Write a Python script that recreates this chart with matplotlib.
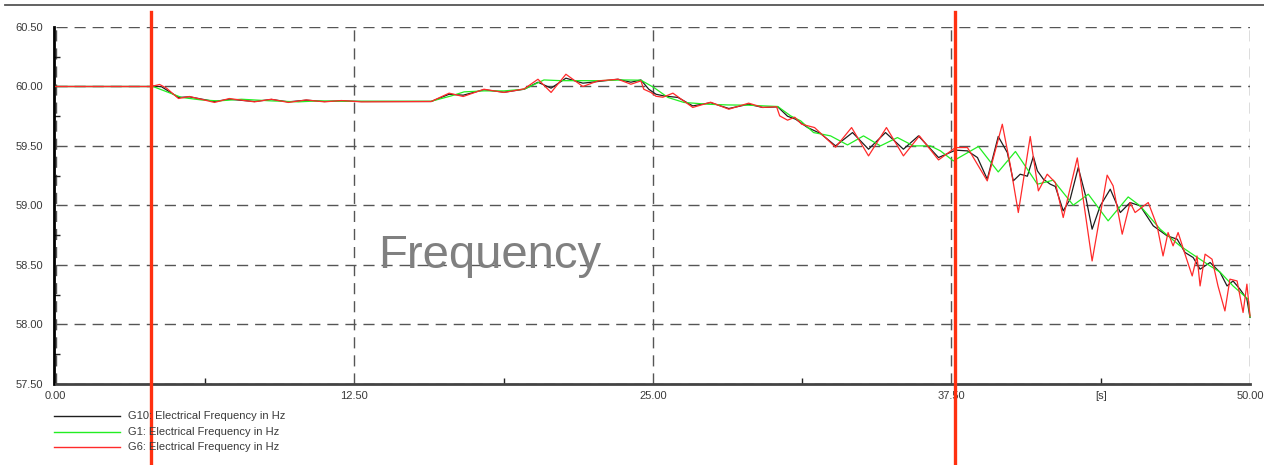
import matplotlib
matplotlib.use("Agg")
import matplotlib.pyplot as plt
from matplotlib.lines import Line2D
import numpy as np

plt.rcParams['font.family'] = ['Liberation Sans', 'DejaVu Sans']

# ---------------- data ----------------
t_g10 = [0, 4.01, 4.10, 4.43, 5.14, 5.60, 6.65, 7.27, 8.32, 9.03, 9.74, 10.49, 11.25, 11.96,
         12.79, 15.72, 16.47, 17.06, 17.93, 18.77, 19.61, 20.19, 20.74, 21.36, 22.07, 22.83,
         23.54, 24.08, 24.50, 24.83, 25.13, 25.46, 26.05, 26.67, 27.42, 28.18, 29.01, 29.60,
         30.23, 30.64, 30.98, 31.48, 32.02, 32.65, 33.36, 34.03, 34.74, 35.49, 36.12, 36.96,
         37.67, 38.17, 38.59, 39.00, 39.46, 39.84, 40.09, 40.38, 40.68, 40.93, 41.10, 41.35,
         41.64, 41.85, 42.18, 42.47, 42.81, 43.10, 43.39, 43.73, 44.15, 44.57, 44.98, 45.40,
         45.95, 46.53, 46.95, 47.28, 47.62, 47.91, 48.33, 48.75, 49.04, 49.29, 49.58, 49.87, 50.00]
f_g10 = [60.000, 60.000, 60.003, 59.998, 59.908, 59.913, 59.874, 59.893, 59.874, 59.891, 59.871,
         59.885, 59.874, 59.879, 59.874, 59.874, 59.935, 59.927, 59.973, 59.952, 59.977, 60.036,
         59.986, 60.070, 60.028, 60.045, 60.061, 60.036, 60.055, 59.977, 59.935, 59.921, 59.908,
         59.837, 59.864, 59.815, 59.851, 59.824, 59.829, 59.750, 59.725, 59.655, 59.605, 59.501,
         59.613, 59.473, 59.613, 59.473, 59.585, 59.403, 59.465, 59.459, 59.403, 59.221, 59.580,
         59.445, 59.207, 59.263, 59.246, 59.412, 59.291, 59.221, 59.179, 59.160, 58.955, 59.053,
         59.319, 59.095, 58.801, 58.997, 59.137, 58.941, 59.025, 58.997, 58.829, 58.745, 58.717,
         58.605, 58.563, 58.465, 58.521, 58.437, 58.324, 58.366, 58.297, 58.213, 58.059]

t_g1 = [0, 4.01, 4.10, 5.27, 6.10, 6.81, 7.78, 9.03, 10.16, 10.99, 12.08, 15.72, 16.56, 17.10,
        17.93, 18.77, 19.61, 20.44, 21.15, 22.70, 23.79, 24.50, 25.04, 25.63, 26.30, 27.30,
        28.14, 28.97, 30.23, 30.77, 31.19, 31.73, 32.44, 33.15, 33.82, 34.53, 35.24, 35.91,
        36.62, 37.04, 37.58, 38.63, 39.46, 40.18, 41.10, 41.76, 42.60, 43.23, 44.06, 44.90,
        45.40, 46.24, 47.07, 47.70, 48.33, 48.75, 49.29, 49.92, 50.00]
f_g1 = [60.000, 60.000, 59.998, 59.908, 59.887, 59.879, 59.893, 59.879, 59.871, 59.879, 59.876,
        59.876, 59.921, 59.955, 59.963, 59.963, 59.977, 60.055, 60.049, 60.049, 60.055, 60.053,
        59.992, 59.908, 59.866, 59.851, 59.845, 59.843, 59.832, 59.753, 59.711, 59.613, 59.585,
        59.509, 59.585, 59.501, 59.571, 59.501, 59.501, 59.459, 59.375, 59.496, 59.282, 59.454,
        59.179, 59.213, 59.003, 59.095, 58.871, 59.072, 58.997, 58.801, 58.661, 58.576, 58.492,
        58.440, 58.324, 58.213, 58.062]

t_g6 = [0, 4.01, 4.10, 4.35, 4.64, 5.14, 5.60, 6.65, 7.27, 8.32, 9.03, 9.74, 10.49, 11.25, 11.96,
        12.79, 15.72, 16.47, 17.06, 17.93, 18.77, 19.61, 20.19, 20.74, 21.36, 22.07, 22.70,
        23.54, 24.08, 24.50, 24.62, 24.92, 25.13, 25.42, 25.84, 26.67, 27.42, 28.18, 29.01,
        29.60, 30.18, 30.31, 30.64, 30.94, 31.23, 31.77, 32.65, 33.32, 34.03, 34.78, 35.49,
        36.16, 36.96, 37.67, 38.17, 39.00, 39.63, 39.97, 40.30, 40.80, 41.14, 41.51, 41.85,
        42.18, 42.77, 43.39, 44.02, 44.27, 44.65, 44.98, 45.19, 45.74, 46.11, 46.36, 46.57,
        46.78, 46.99, 47.28, 47.58, 47.78, 47.91, 48.12, 48.41, 48.66, 48.95, 49.16, 49.46,
        49.71, 49.87, 50.00]
f_g6 = [60.000, 60.000, 60.005, 60.017, 59.986, 59.899, 59.916, 59.866, 59.899, 59.871, 59.893,
        59.866, 59.887, 59.871, 59.882, 59.871, 59.874, 59.944, 59.916, 59.977, 59.950, 59.980,
        60.061, 59.950, 60.103, 60.000, 60.047, 60.061, 60.019, 60.047, 59.977, 59.950, 59.918,
        59.910, 59.944, 59.824, 59.868, 59.809, 59.860, 59.824, 59.830, 59.753, 59.717, 59.742,
        59.683, 59.655, 59.490, 59.655, 59.417, 59.655, 59.417, 59.585, 59.383, 59.487, 59.487,
        59.207, 59.683, 59.333, 58.941, 59.580, 59.123, 59.263, 59.193, 58.899, 59.400, 58.534,
        59.255, 59.165, 58.759, 59.025, 58.941, 59.025, 58.829, 58.576, 58.773, 58.661, 58.773,
        58.591, 58.408, 58.576, 58.324, 58.591, 58.549, 58.324, 58.114, 58.381, 58.366, 58.101,
        58.339, 58.072]

series_names = ["G10: Electrical Frequency in Hz",
                "G1: Electrical Frequency in Hz",
                "G6: Electrical Frequency in Hz"]
series_colors = ["#1e1e1e", "#22ee22", "#ff2a2a"]

marker_times = [3.98, 37.65]
x_major = [0, 12.5, 25, 37.5, 50]
x_major_labels = ["0.00", "12.50", "25.00", "37.50", "50.00"]
x_minor = [6.25, 18.75, 31.25, 43.75]
x_minor_labels = ["", "", "", "[s]"]
y_major = [57.5, 58.0, 58.5, 59.0, 59.5, 60.0, 60.5]
y_minor = [57.75, 58.25, 58.75, 59.25, 59.75, 60.25]
title_text = "Frequency"

# ---------------- figure ----------------
W, H = 1264, 465
fig = plt.figure(figsize=(W / 100, H / 100), dpi=100)
ax_left, ax_right, ax_top, ax_bot = 55.7, 1250, 27, 384
ax = fig.add_axes([ax_left / W, 1 - ax_bot / H, (ax_right - ax_left) / W, (ax_bot - ax_top) / H])

ax.set_xlim(0, 50)
ax.set_ylim(57.5, 60.5)

for t, f, c in zip([t_g10, t_g1, t_g6], [f_g10, f_g1, f_g6], series_colors):
    ax.plot(t, f, color=c, lw=0.9, zorder=3, clip_on=False)

ax.set_xticks(x_major, labels=x_major_labels)
ax.set_xticks(x_minor, labels=x_minor_labels, minor=True)
ax.set_yticks(y_major, labels=["%.2f" % v for v in y_major])
ax.set_yticks(y_minor, minor=True)

ax.grid(True, which='major', color='#555555', linestyle=(0, (8, 5)), lw=1.0, zorder=1)
ax.tick_params(which='major', length=0, labelsize=8, labelcolor='#3a3a3a')
ax.tick_params(axis='y', which='major', pad=7.5)
ax.tick_params(axis='x', which='major', pad=5)
ax.tick_params(which='minor', direction='in', length=4, width=1, color='#222222',
               labelsize=8, labelcolor='#3a3a3a')
ax.tick_params(axis='x', which='minor', pad=5)

for s in ['top', 'right']:
    ax.spines[s].set_visible(False)
ax.spines['left'].set_color('black')
ax.spines['left'].set_linewidth(2)
ax.spines['left'].set_position(('outward', 1.5))
ax.spines['bottom'].set_color('#444444')
ax.spines['bottom'].set_linewidth(2)

# red marker lines extending beyond the axes
ymin_frac = (ax_bot - H) / (ax_bot - ax_top)
ymax_frac = (ax_bot - 12) / (ax_bot - ax_top)
for mt in marker_times:
    ax.axvline(mt, ymin=ymin_frac, ymax=ymax_frac, color='#ff3010', lw=2.4,
               clip_on=False, zorder=10)

# big title inside the plot
ax.text((378 - ax_left) / (ax_right - ax_left), (ax_bot - 268) / (ax_bot - ax_top), title_text,
        transform=ax.transAxes, fontsize=34, color='#808080', ha='left', va='baseline', zorder=4)

# top border line
fig.add_artist(Line2D([5 / W, 1.0], [1 - 5 / H, 1 - 5 / H], color='#555555', lw=1.3))

# legend below
rows_y = [416, 431.7, 447]
for name, c, ry in zip(series_names, series_colors, rows_y):
    yy = 1 - ry / H
    fig.add_artist(Line2D([54 / W, 120 / W], [yy, yy], color=c, lw=1.0))
    fig.text(128 / W, yy, name, fontsize=8, color='#3a3a3a', ha='left', va='center')

fig.savefig("out.png", dpi=100)
